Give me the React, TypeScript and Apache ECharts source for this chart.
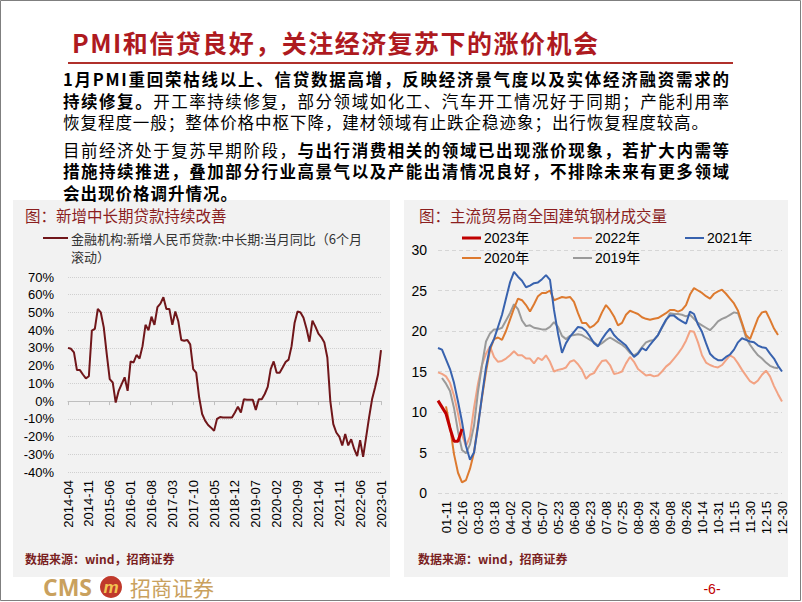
import React, { useEffect, useRef } from "react";
import * as echarts from "echarts";

// ---------- data ----------
const loanStartMonth = "2014-04";
const loanValues = [
  30, 29.5, 27.5, 17.5, 17.5, 15, 12.8, 14, 39.7, 40.7,
  52, 50, 41.6, 26.5, 12.4, 10.5, -0.8, 5.8, 9.6, 13.4,
  5.8, 22.4, 21.8, 26, 24, 31, 43, 40, 47.6, 43,
  53, 55, 58.6, 52, 52, 43, 50.5, 45, 34.5, 34,
  34.5, 32, 18, 16, 2, -7.3, -11, -13.5, -15, -16.8,
  -10, -9, -9.3, -9.3, -9.3, -9.3, -6.4, -3.2, -6.4, 1,
  0.7, 0.7, 0.7, -5, 1, 1, 4, 8, 18, 22.4,
  16, 16, 19, 22, 23.4, 31, 44, 50.6, 50, 47,
  41, 33.5, 45.4, 42, 38, 36, 33, 24.6, 0, -13,
  -17.7, -20, -25, -18.6, -25, -21.5, -27, -31, -22, -31.5,
  -20.5, -9.2, 1, 7.7, 15, 28.8,
];

const steelTicks = [
  "01-11", "02-16", "03-03", "03-18", "04-02", "04-20", "05-07", "05-23",
  "06-08", "06-23", "07-08", "07-25", "08-09", "08-24", "09-08", "09-26",
  "10-14", "10-31", "11-15", "11-30", "12-15", "12-30",
];
const steel2023 = [11.4, 10.6, 9.8, 8.0, 6.4, 6.4, 7.9];
const steel2022 = [
  14.9, 14.7, 14.4, 13.6, 12.0, 9.8, 7.2, 5.8, 7.0, 10.5,
  13.5, 15.8, 17.2, 18.1, 16.8, 16.2, 16.3, 16.6, 17.0, 17.5,
  17.0, 17.0, 16.6, 16.6, 16.0, 16.7, 16.4, 17.0, 16.2, 15.0,
  15.2, 15.3, 15.5, 16.2, 16.4, 15.9, 15.2, 14.1, 14.6, 14.8,
  15.6, 16.3, 16.4, 15.8, 14.7, 14.8, 15.0, 16.0, 16.8, 16.2,
  15.3, 14.9, 14.5, 14.6, 14.4, 14.5, 15.0, 15.6, 16.0, 16.6,
  17.2, 17.9, 18.8, 20.0, 19.9, 18.6, 17.0, 16.1, 15.8, 15.6,
  15.5, 15.8, 16.4, 17.0, 16.7, 16.0, 15.2, 14.5, 13.8, 13.5,
  13.9, 14.6, 15.1, 14.4, 13.2, 12.2, 11.3,
];
const steel2021 = [
  17.9, 17.7, 16.5, 15.3, 13.6, 11.3, 8.8, 5.8, 4.1, 5.0,
  8.2, 12.0, 15.5, 18.0, 19.0, 20.5, 22.0, 24.0, 26.0, 27.3,
  26.7, 26.2, 25.4, 25.6, 25.9, 26.0, 26.4, 26.9, 26.3, 22.6,
  19.7, 17.3, 18.5, 19.3, 19.9, 20.5, 20.4, 20.0, 19.3, 18.5,
  18.1, 19.0, 19.7, 20.3, 19.5, 19.0, 18.6, 18.2, 17.5, 16.8,
  17.2, 17.9, 17.6, 18.3, 18.9, 19.5, 20.5, 21.4, 21.9, 21.9,
  21.5, 21.2, 20.9, 22.4, 22.1, 20.8, 19.9, 18.5, 17.2, 16.7,
  16.4, 16.4, 16.8, 17.1, 17.7, 18.6, 19.1, 18.9, 18.7, 18.6,
  18.2, 18.0, 17.9, 17.2, 16.6, 15.7, 15.0,
];
const steel2020 = [
  null, null, 10.7, 8.2, 4.8, 2.5, 1.3, 1.6, 3.0, 5.0,
  8.5, 11.8, 15.0, 17.7, 19.0, 19.2, 18.9, 20.0, 21.4, 22.8,
  24.0, 23.8, 23.2, 22.4, 23.3, 24.3, 24.7, 24.7, 25.0, 23.8,
  24.0, 24.2, 24.1, 24.2, 23.6, 22.2, 21.0, 21.0, 20.4, 20.7,
  21.2, 22.3, 23.2, 22.6, 21.8, 20.7, 21.0, 22.0, 22.5, 22.3,
  22.1, 21.7, 21.5, 21.4, 21.5, 21.6, 21.9, 22.2, 22.6, 22.6,
  22.4, 22.6, 23.2, 24.5, 25.3, 25.0, 24.7, 24.3, 24.0, 24.6,
  24.9, 25.1, 24.6, 24.0, 23.4, 22.5, 21.0, 19.5, 19.0, 20.3,
  21.6, 22.3, 22.4, 21.4, 20.3, 19.5,
];
const steel2019 = [
  null, 14.2, 13.5, 12.6, 10.5, 7.6, 5.3, 4.9, 6.0, 8.3,
  12.5, 15.8, 18.7, 19.7, 20.2, 20.2, 20.4, 21.3, 22.2, 23.3,
  22.7, 21.3, 20.6, 20.7, 20.4, 20.3, 20.2, 20.2, 20.5, 21.1,
  20.5, 19.4, 19.0, 19.4, 19.5, 19.6, 19.5, 19.2, 18.9, 18.6,
  18.2, 18.5, 18.9, 19.2, 18.9, 18.6, 18.3, 17.9, 17.3, 17.0,
  17.3, 18.0, 18.6, 18.8, 18.9, 19.5, 20.4, 21.3, 22.2, 22.1,
  22.1, 22.0, 21.8, 22.0, 21.5, 21.0, 20.7, 20.4, 20.1, 20.6,
  21.2, 21.5, 21.7, 22.0, 22.3, 22.2, 20.8, 19.2, 18.3, 17.6,
  17.0, 16.6, 16.1, 15.7, 15.5, 15.4,
];
const steelNames = ["2023年", "2022年", "2021年", "2020年", "2019年"];

const slideTitle = "PMI和信贷良好，关注经济复苏下的涨价机会";
// each line: text runs (b = bold); x1 = right edge the line is spread to (null = natural width)
const bodyLines = [
  { y: 79, x1: 729, segs: [{ b: true, t: "1月PMI重回荣枯线以上、信贷数据高增，反映经济景气度以及实体经济融资需求的" }] },
  { y: 100.5, x1: 729, segs: [
    { b: true, t: "持续修复。" },
    { b: false, t: "开工率持续修复，部分领域如化工、汽车开工情况好于同期；产能利用率" },
  ] },
  { y: 122, x1: 708, segs: [{ b: false, t: "恢复程度一般；整体价格中枢下降，建材领域有止跌企稳迹象；出行恢复程度较高。" }] },
  { y: 149.5, x1: 729, segs: [
    { b: false, t: "目前经济处于复苏早期阶段，" },
    { b: true, t: "与出行消费相关的领域已出现涨价现象，若扩大内需等" },
  ] },
  { y: 171, x1: 729, segs: [{ b: true, t: "措施持续推进，叠加部分行业高景气以及产能出清情况良好，不排除未来有更多领域" }] },
  { y: 192.5, x1: null, segs: [{ b: true, t: "会出现价格调升情况。" }] },
];

// ---------- helpers ----------
const CJK = '"Noto Sans CJK SC", sans-serif';
const LAT = '"Liberation Sans", Arial, "Noto Sans CJK SC", sans-serif';
const BODY_SIZE = 16.5;
const TITLE_SIZE = 25;

function monthSeq(start: string, n: number): string[] {
  let [y, m] = start.split("-").map(Number);
  const out: string[] = [];
  for (let i = 0; i < n; i++) {
    out.push(`${y}-${String(m).padStart(2, "0")}`);
    m++;
    if (m > 12) { m = 1; y++; }
  }
  return out;
}

function measurer() {
  const ctx = document.createElement("canvas").getContext("2d")!;
  return (text: string, bold: boolean, size: number) => {
    ctx.font = `${bold ? "bold" : "normal"} ${size}px "Noto Sans CJK SC"`;
    return ctx.measureText(text).width;
  };
}

function buildText(spacing: Map<string, number>): any[] {
  const measure = measurer();
  const x0 = 63;
  const els: any[] = [];
  bodyLines.forEach((line) => {
    const widths = line.segs.map((s) => measure(s.t, s.b, BODY_SIZE));
    const total = widths.reduce((a, b) => a + b, 0);
    const nChars = line.segs.reduce((a, s) => a + Array.from(s.t).length, 0);
    const natural = 17.4 / BODY_SIZE; // unjustified lines in the slide run at ~17.4px per character
    const target = line.x1 ? line.x1 - x0 : total * natural;
    const ls = Math.max(0, (target - total) / (nChars - 1));
    let x = x0;
    line.segs.forEach((s, i) => {
      els.push({
        type: "text", x, y: line.y,
        style: {
          text: s.t, fill: "#000", fontSize: BODY_SIZE, lineHeight: BODY_SIZE,
          fontWeight: s.b ? "bold" : "normal", fontFamily: CJK, verticalAlign: "middle",
        },
      });
      if (ls > 0) spacing.set(s.t, ls);
      x += widths[i] + ls * Array.from(s.t).length;
    });
  });
  // title spread to the reference's width
  const tw = measure(slideTitle, true, TITLE_SIZE);
  const tn = Array.from(slideTitle).length;
  spacing.set(slideTitle, Math.max(0, (598 - 72 - tw) / (tn - 1)));
  els.push({
    type: "text", x: 72, y: 42,
    style: { text: slideTitle, fill: "#AE1A1F", fontSize: TITLE_SIZE, fontWeight: "bold", fontFamily: CJK, verticalAlign: "middle" },
  });
  return els;
}

function buildOption(spacing: Map<string, number>): any {
  const loanMonths = monthSeq(loanStartMonth, loanValues.length);
  const steelCats: string[] = [];
  for (let i = 0; i < 2 + (steelTicks.length - 1) * 4 + 1; i++) {
    steelCats.push(i >= 2 && (i - 2) % 4 === 0 ? steelTicks[(i - 2) / 4] : "");
  }
  const steelData = [steel2023, steel2022, steel2021, steel2020, steel2019];
  const steelColors = ["#C00000", "#F2A384", "#3862AE", "#DD7A2F", "#9A9A9A"];
  const steelWidths = [3, 2, 2, 2, 2];
  const drawOrder = [1, 4, 3, 2, 0];
  const legendPos = [[462, 231], [573, 231], [685, 231], [462, 251], [573, 251]];

  const graphic: any[] = [
    { type: "rect", z: -10, shape: { x: 0.5, y: 0.5, width: 800, height: 600 }, style: { fill: "#fff", stroke: "#7F7F7F", lineWidth: 1 } },
    { type: "line", shape: { x1: 68, y1: 63, x2: 733, y2: 63 }, style: { stroke: "#B0302B", lineWidth: 2 } },
    ...buildText(spacing),
    { type: "rect", z: -5, shape: { x: 13, y: 200, width: 377, height: 377 }, style: { fill: "#F2F2F2" } },
    { type: "rect", z: -5, shape: { x: 404, y: 200, width: 384, height: 377 }, style: { fill: "#F2F2F2" } },
    { type: "text", x: 25, y: 215, style: { text: "图：新增中长期贷款持续改善", fill: "#8B1E1E", fontSize: 15.5, fontFamily: CJK, verticalAlign: "middle" } },
    { type: "text", x: 419, y: 215, style: { text: "图：主流贸易商全国建筑钢材成交量", fill: "#8B1E1E", fontSize: 15.5, fontFamily: CJK, verticalAlign: "middle" } },
    { type: "line", shape: { x1: 43, y1: 238, x2: 68, y2: 238 }, style: { stroke: "#70161A", lineWidth: 2 } },
    { type: "text", x: 71, y: 238, style: { text: "金融机构:新增人民币贷款:中长期:当月同比（6个月", fill: "#333", fontSize: 13, lineHeight: 14, fontFamily: CJK, verticalAlign: "middle" } },
    { type: "text", x: 71, y: 256, style: { text: "滚动）", fill: "#333", fontSize: 13, lineHeight: 14, fontFamily: CJK, verticalAlign: "middle" } },
    { type: "text", x: 25, y: 558, style: { text: "数据来源：wind，招商证券", fill: "#7A1F1F", fontSize: 12, fontWeight: "bold", fontFamily: CJK, verticalAlign: "middle" } },
    { type: "text", x: 418, y: 558, style: { text: "数据来源：wind，招商证券", fill: "#7A1F1F", fontSize: 12, fontWeight: "bold", fontFamily: CJK, verticalAlign: "middle" } },
    { type: "text", x: 43, y: 587, style: { text: "CMS", fill: "#C9A15E", fontSize: 23, fontWeight: "bold", lineHeight: 23, fontFamily: '"Open Sans", "Liberation Sans", sans-serif', verticalAlign: "middle" } },
    { type: "circle", shape: { cx: 111, cy: 587, r: 11 }, style: { fill: "#C0392B" } },
    { type: "text", x: 111, y: 587, style: { text: "m", fill: "#F3C452", fontSize: 17, fontWeight: "bold", fontStyle: "italic", lineHeight: 17, fontFamily: LAT, align: "center", verticalAlign: "middle" } },
    { type: "text", x: 130, y: 587, style: { text: "招商证券", fill: "#C9A15E", fontSize: 21, lineHeight: 21, fontFamily: CJK, verticalAlign: "middle" } },
    { type: "text", x: 712, y: 589, style: { text: "-6-", fill: "#C00000", fontSize: 14, fontFamily: LAT, align: "center", verticalAlign: "middle" } },
  ];

  const axisText = { fontSize: 13, color: "#000", fontFamily: LAT };

  return {
    animation: false,
    backgroundColor: "#fff",
    graphic,
    grid: [
      { left: 68, top: 277, width: 313, height: 195 },
      { left: 438, top: 250, width: 344, height: 243 },
    ],
    xAxis: [
      {
        gridIndex: 0, type: "category", data: loanMonths, boundaryGap: false,
        axisLine: { onZero: true, lineStyle: { color: "#BFBFBF", width: 1 } },
        axisTick: { show: true, interval: 6, length: 4, lineStyle: { color: "#BFBFBF" } },
        axisLabel: { ...axisText, interval: 6, rotate: 90, margin: 8 },
        splitLine: { show: false },
      },
      {
        gridIndex: 1, type: "category", data: steelCats, boundaryGap: false,
        axisLine: { show: false }, axisTick: { show: false },
        axisLabel: { ...axisText, interval: (i: number) => i >= 2 && (i - 2) % 4 === 0, rotate: 90, margin: 8 },
        splitLine: { show: false },
      },
    ],
    yAxis: [
      {
        gridIndex: 0, type: "value", min: -40, max: 70, interval: 10,
        axisLine: { show: false }, axisTick: { show: false },
        axisLabel: { ...axisText, formatter: "{value}%", margin: 14 },
        splitLine: { lineStyle: { type: "dotted", color: "#D0D0D0", width: 1 } },
      },
      {
        gridIndex: 1, type: "value", min: 0, max: 30, interval: 5,
        axisLine: { show: false }, axisTick: { show: false },
        axisLabel: { ...axisText, fontSize: 14, margin: 11 },
        splitLine: { lineStyle: { type: [4, 3], color: "#D6D6D6", width: 1 } },
      },
    ],
    legend: steelNames.map((n, i) => ({
      data: [n], left: legendPos[i][0], top: legendPos[i][1], padding: 0,
      icon: "rect", itemWidth: 19, itemHeight: i === 0 ? 3 : 2, selectedMode: false,
      textStyle: { fontSize: 14, color: "#000", fontFamily: LAT, padding: [0, 0, 0, -2] },
    })),
    series: [
      {
        name: "金融机构:新增人民币贷款:中长期:当月同比（6个月滚动）", type: "line", xAxisIndex: 0, yAxisIndex: 0,
        data: loanValues, symbol: "none", lineStyle: { color: "#70161A", width: 2 }, itemStyle: { color: "#70161A" },
      },
      ...drawOrder.map((k) => ({
        name: steelNames[k], type: "line", xAxisIndex: 1, yAxisIndex: 1,
        data: steelData[k], symbol: "none", connectNulls: false,
        color: steelColors[k],
        lineStyle: { color: steelColors[k], width: steelWidths[k] },
      })),
    ],
  };
}

export default function App() {
  const ref = useRef<HTMLDivElement>(null);
  useEffect(() => {
    const el = ref.current!;
    const chart = echarts.init(el, null, { renderer: "svg", width: 802, height: 602 });
    const spacing = new Map<string, number>();
    chart.setOption(buildOption(spacing));
    // spread justified lines the way the slide does (SVG letter-spacing)
    el.querySelectorAll("text").forEach((t) => {
      const ls = spacing.get(t.textContent || "");
      if (ls) (t as SVGTextElement).style.letterSpacing = `${ls.toFixed(2)}px`;
    });
    return () => chart.dispose();
  }, []);
  return (
    <div
      ref={ref}
      style={{ position: "fixed", left: 0, top: 0, width: 802, height: 602, background: "#fff" }}
    />
  );
}
